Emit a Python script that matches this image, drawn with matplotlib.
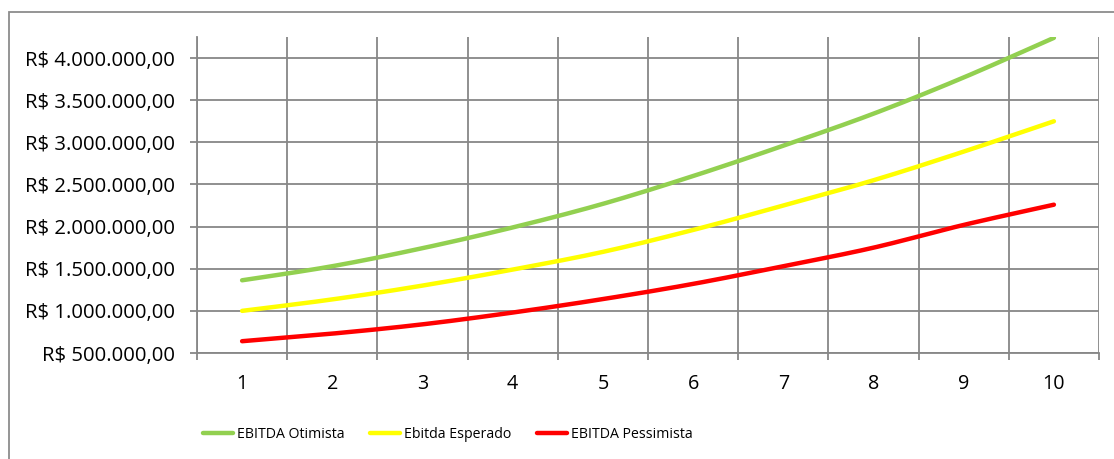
import numpy as np
import matplotlib.pyplot as plt
from matplotlib.patches import Rectangle
from matplotlib.ticker import FuncFormatter

anos = [1, 2, 3, 4, 5, 6, 7, 8, 9, 10]
otimista = [1363000, 1530000, 1744000, 1990000, 2270000, 2600000, 2960000, 3340000, 3770000, 4240000]
esperado = [1000000, 1136000, 1300000, 1490000, 1700000, 1960000, 2250000, 2550000, 2890000, 3250000]
pessimista = [640000, 730000, 840000, 980000, 1140000, 1320000, 1530000, 1750000, 2020000, 2260000]
nomes = ["EBITDA Otimista", "Ebitda Esperado", "EBITDA Pessimista"]
cores = ["#92D050", "#FFFF00", "#FF0000"]

plt.rcParams['font.family'] = ['Open Sans', 'DejaVu Sans']


def suaviza(x, y, n=30):
    # curva suave tipo Excel (Bezier com tangentes de Catmull-Rom)
    p = np.column_stack([x, y]).astype(float)
    p = np.vstack([p[0], p, p[-1]])
    xs, ys = [], []
    t = np.linspace(0, 1, n)[:, None]
    for i in range(1, len(p) - 2):
        p0, p3 = p[i], p[i + 1]
        p1 = p0 + (p[i + 1] - p[i - 1]) / 6
        p2 = p3 - (p[i + 2] - p[i]) / 6
        b = (1 - t)**3 * p0 + 3 * (1 - t)**2 * t * p1 + 3 * (1 - t) * t**2 * p2 + t**3 * p3
        xs.extend(b[:, 0])
        ys.extend(b[:, 1])
    return xs, ys


def moeda(v, pos):
    s = f"{v:,.2f}".replace(",", "X").replace(".", ",").replace("X", ".")
    return "R$ " + s


W, H = 1114, 459
fig = plt.figure(figsize=(W / 100, H / 100), dpi=100)
ax = fig.add_axes([197 / W, 1 - 353 / H, (1099 - 197) / W, (353 - 37) / H])

grid = "#878787"
for serie, nome, cor in zip([otimista, esperado, pessimista], nomes, cores):
    sx, sy = suaviza(anos, serie)
    ax.plot(sx, sy, color=cor, lw=3.2, solid_capstyle='round', label=nome, zorder=3)

ax.set_xlim(0.5, 10.5)
ax.set_ylim(500000, 4250000)
ax.set_yticks(np.arange(500000, 4000001, 500000))
ax.yaxis.set_major_formatter(FuncFormatter(moeda))
ax.set_xticks(anos)
ax.set_xticks(np.arange(0.5, 10.6, 1), minor=True)
ax.tick_params(axis='x', which='major', length=0, pad=15, labelsize=14.2, colors='black')
ax.tick_params(axis='x', which='minor', length=5, width=1.3, color=grid)
ax.tick_params(axis='y', length=5, width=1.3, color=grid, pad=11, labelsize=14.6)
ax.grid(True, axis='y', which='major', color=grid, lw=1.3)
ax.grid(True, axis='x', which='minor', color=grid, lw=1.3)
for s in ax.spines.values():
    s.set_visible(False)
for lado in ['left', 'bottom']:
    ax.spines[lado].set_visible(True)
    ax.spines[lado].set_color(grid)
    ax.spines[lado].set_linewidth(1.3)

fig.patches.append(Rectangle((9 / W, -0.1), 1.2, 1 - 12 / H + 0.1, transform=fig.transFigure,
                             fill=False, edgecolor="#8c8c8c", lw=1.3))

fig.legend(loc='center', bbox_to_anchor=(448 / W, 1 - 434 / H), ncol=3, frameon=False,
           fontsize=10.2, handlelength=2.1, handletextpad=0.3, columnspacing=1.8,
           borderaxespad=0)

fig.savefig("out.png", dpi=100)
